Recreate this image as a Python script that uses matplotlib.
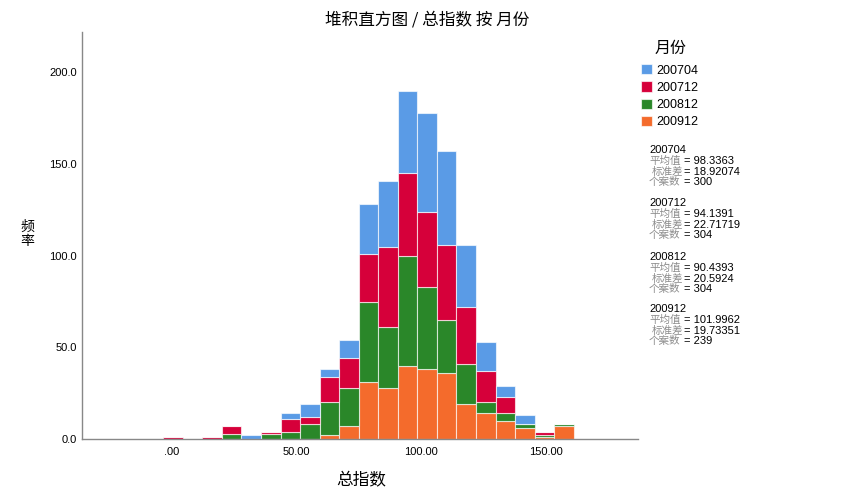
import numpy as np
import matplotlib
matplotlib.use("Agg")
import matplotlib.pyplot as plt

plt.rcParams['font.family'] = ['Liberation Sans', 'Noto Sans CJK SC', 'DejaVu Sans']

# ---------------- data ----------------
series_names = ["200704", "200712", "200812", "200912"]
series_colors = ["#5A9BE6", "#D6003A", "#2A8729", "#F46B2C"]

bin_start = -3.5
bin_width = 7.84
# counts per bin (21 bins) for each month
cnt_200704 = [0, 0, 0, 0, 2, 0, 3, 7, 4, 10, 27, 36, 45, 54, 51, 34, 16, 6, 5, 0, 0]
cnt_200712 = [1, 0, 1, 4, 0, 1, 7, 4, 14, 16, 26, 44, 45, 41, 41, 31, 17, 9, 0, 2, 0]
cnt_200812 = [0, 0, 0, 3, 0, 3, 4, 8, 18, 21, 44, 33, 60, 45, 29, 22, 6, 4, 2, 1, 1]
cnt_200912 = [0, 0, 0, 0, 0, 0, 0, 0, 2, 7, 31, 28, 40, 38, 36, 19, 14, 10, 6, 1, 7]

x_ticks = [0, 50, 100, 150]
x_tick_labels = [".00", "50.00", "100.00", "150.00"]
y_ticks = [0, 50, 100, 150, 200]
y_tick_labels = ["0.0", "50.0", "100.0", "150.0", "200.0"]

stat_mean = ["98.3363", "94.1391", "90.4393", "101.9962"]
stat_std = ["18.92074", "22.71719", "20.5924", "19.73351"]
stat_n = ["300", "304", "304", "239"]

title = "堆积直方图 / 总指数 按 月份"
x_label = "总指数"
y_label = "频\n率"
legend_title = "月份"

# ---------------- figure ----------------
W, H = 854, 504
fig = plt.figure(figsize=(W / 100, H / 100), dpi=100)
ax = fig.add_axes([82 / W, 1 - 439 / H, (638 - 82) / W, (439 - 32) / H])

n_bins = len(cnt_200704)
edges = bin_start + bin_width * np.arange(n_bins + 1)
left = edges[:-1]

# stack order: bottom -> top
stack = [("200912", cnt_200912), ("200812", cnt_200812),
         ("200712", cnt_200712), ("200704", cnt_200704)]
color_of = dict(zip(series_names, series_colors))
bottom = np.zeros(n_bins)
handles = {}
for name, vals in stack:
    vals = np.asarray(vals, dtype=float)
    bars = ax.bar(left, vals, width=bin_width, bottom=bottom, align='edge',
                  color=color_of[name], edgecolor=(1, 1, 1, 0.65), linewidth=0.8,
                  label=name)
    handles[name] = bars
    bottom = bottom + vals

ax.set_xlim(-36.1, 186.9)
ax.set_ylim(0, 222)
ax.set_xticks(x_ticks)
ax.set_xticklabels(x_tick_labels)
ax.set_yticks(y_ticks)
ax.set_yticklabels(y_tick_labels)
ax.tick_params(axis='both', length=0, labelsize=8, colors='black')
ax.tick_params(axis='x', pad=5.5)
ax.tick_params(axis='y', pad=3.6)
for s in ['top', 'right']:
    ax.spines[s].set_visible(False)
for s in ['left', 'bottom']:
    ax.spines[s].set_color('#888888')
    ax.spines[s].set_linewidth(1.0)

# title and axis labels
fig.text(427 / W, 1 - 20 / H, title, ha='center', va='center', fontsize=12,
         family=['Noto Sans CJK SC', 'DejaVu Sans'])
fig.text(361 / W, 1 - 481 / H, x_label, ha='center', va='center', fontsize=12,
         family=['Noto Sans CJK SC'])
fig.text(27 / W, 1 - 234 / H, y_label, ha='center', va='center', fontsize=10,
         family=['Noto Sans CJK SC'], linespacing=1.05)

# legend
fig.text(671 / W, 1 - 48 / H, legend_title, ha='center', va='center', fontsize=11.5,
         family=['Noto Sans CJK SC'])
leg = fig.legend([handles[n] for n in series_names], series_names,
                 loc='upper left', bbox_to_anchor=(641 / W, 1 - 64 / H),
                 bbox_transform=fig.transFigure, frameon=False, fontsize=9,
                 handlelength=0.9, handleheight=0.9, handletextpad=0.35,
                 labelspacing=0.38, borderpad=0, borderaxespad=0)

# stats text
block_y = [150, 203, 257, 309]
label_gray = '#8c8c8c'
for i, name in enumerate(series_names):
    y0 = block_y[i]
    fig.text(649 / W, 1 - y0 / H, name, ha='left', va='center', fontsize=8)
    rows = [("平均值", 649, stat_mean[i], "= "),
            ("标准差", 652, stat_std[i], "= "),
            ("个案数", 649, stat_n[i], "= ")]
    for j, (lab, lx, val, eq) in enumerate(rows):
        yy = y0 + 10.8 * (j + 1)
        fig.text(lx / W, 1 - yy / H, lab, ha='left', va='center', fontsize=7.6,
                 color=label_gray, family=['Noto Sans CJK SC'])
        fig.text(684 / W, 1 - yy / H, eq + val, ha='left', va='center', fontsize=8)

fig.savefig("out.png", dpi=100)
